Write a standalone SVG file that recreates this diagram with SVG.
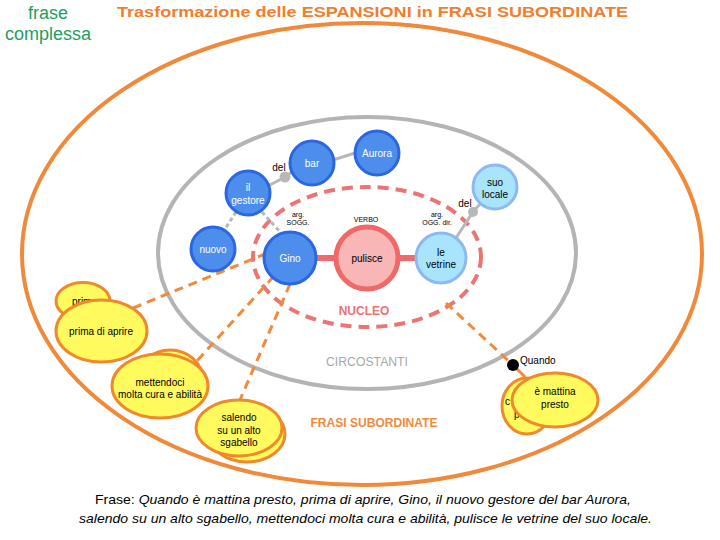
<svg xmlns="http://www.w3.org/2000/svg" width="720" height="540" viewBox="0 0 720 540">
<style>
text{font-family:"Liberation Sans",Arial,sans-serif}
.blue{fill:#4d8eec;stroke:#2b66e3;stroke-width:3}
.light{fill:#a8e5fc;stroke:#8db8f1;stroke-width:3}
.yel{fill:#fffa5e;stroke:#f0882c;stroke-width:3}
.wt{fill:#fff;font-size:10px;text-anchor:middle}
.bt{fill:#000;font-size:10px;text-anchor:middle}
.sm{fill:#000;font-size:7px;text-anchor:middle}
.gl{stroke:#b8b8b8;stroke-width:3;fill:none}
.gd{stroke:#b8b8b8;stroke-width:3;fill:none;stroke-dasharray:4 3}
.od{stroke:#f08a3c;stroke-width:3;fill:none;stroke-dasharray:9 6}
</style>
<rect width="720" height="540" fill="#fff"/>
<g id="titles">
<text x="48" y="19" font-size="18" fill="#1e9e5e" text-anchor="middle">frase</text>
<text x="48" y="40" font-size="18" fill="#1e9e5e" text-anchor="middle">complessa</text>
<text x="117" y="17" font-size="14.5" font-weight="bold" fill="#f07e2a" textLength="511" lengthAdjust="spacingAndGlyphs">Trasformazione delle ESPANSIONI in FRASI SUBORDINATE</text>
</g>
<g id="regions">
<ellipse cx="362" cy="254" rx="340" ry="231" fill="none" stroke="#f08a3a" stroke-width="4"/>
<ellipse cx="367" cy="253" rx="209" ry="136" fill="none" stroke="#b4b4b4" stroke-width="4"/>
<ellipse cx="367" cy="257" rx="114" ry="70" fill="none" stroke="#ec7474" stroke-width="4" stroke-dasharray="11 7"/>
<text x="364" y="315" font-size="12" font-weight="bold" fill="#e87474" text-anchor="middle">NUCLEO</text>
<text x="367" y="366" font-size="12" fill="#a8a8a8" text-anchor="middle" textLength="82" lengthAdjust="spacingAndGlyphs">CIRCOSTANTI</text>
<text x="374" y="427" font-size="12" font-weight="bold" fill="#f08a3c" text-anchor="middle" textLength="127" lengthAdjust="spacingAndGlyphs">FRASI SUBORDINATE</text>
</g>
<g id="connectors">
<polyline class="gl" points="268,186 285,177 292,172"/>
<line class="gl" x1="333" y1="160" x2="355" y2="153"/>
<polyline class="gl" points="456,238 473,212 480,204"/>
<line class="gd" x1="236" y1="212" x2="225" y2="229"/>
<line class="gd" x1="262" y1="212" x2="282" y2="234"/>
<line x1="290" y1="258" x2="441" y2="258" stroke="#f06a6a" stroke-width="6"/>
<line class="od" x1="133" y1="308" x2="265" y2="254"/>
<line class="od" x1="274" y1="276" x2="196" y2="362"/>
<line class="od" x1="290" y1="284" x2="240" y2="400"/>
<line class="od" x1="446" y1="303" x2="513" y2="365"/>
<line x1="513" y1="365" x2="525" y2="377" stroke="#f08a3c" stroke-width="3"/>
<circle cx="285" cy="177" r="5.5" fill="#b8b8b8"/>
<circle cx="473" cy="212" r="5" fill="#b8b8b8"/>
<text x="279" y="171" font-size="10" fill="#000" text-anchor="middle">del</text>
<text x="465" y="207" font-size="10" fill="#000" text-anchor="middle">del</text>
</g>
<g id="labels">
<text class="sm" x="298" y="217">arg.</text>
<text class="sm" x="298" y="225">SOGG.</text>
<text class="sm" x="366" y="222">VERBO</text>
<text class="sm" x="437" y="217">arg.</text>
<text class="sm" x="437" y="225">OGG. dir.</text>
</g>
<g id="node-aurora"><circle class="blue" cx="377" cy="153" r="22"/><text class="wt" x="377" y="157">Aurora</text></g>
<g id="node-bar"><circle class="blue" cx="312" cy="163" r="22"/><text class="wt" x="312" y="167">bar</text></g>
<g id="node-gestore"><circle class="blue" cx="248" cy="193" r="22"/><text class="wt" x="248" y="191">il</text><text class="wt" x="248" y="204">gestore</text></g>
<g id="node-nuovo"><circle class="blue" cx="213" cy="249" r="22"/><text class="wt" x="213" y="253">nuovo</text></g>
<g id="node-gino"><circle class="blue" cx="290" cy="258" r="26"/><text class="wt" x="290" y="262">Gino</text></g>
<g id="node-pulisce"><circle cx="367" cy="258" r="31" fill="#f9b6b6" stroke="#f06868" stroke-width="5"/><text class="bt" x="367" y="262">pulisce</text></g>
<g id="node-vetrine"><circle class="light" cx="441" cy="258" r="25"/><text class="bt" x="441" y="256">le</text><text class="bt" x="441" y="268">vetrine</text></g>
<g id="node-locale"><circle class="light" cx="495" cy="187" r="22"/><text class="bt" x="495" y="186">suo</text><text class="bt" x="495" y="198">locale</text></g>
<g id="node-prima">
<ellipse class="yel" cx="83" cy="301" rx="27" ry="18.5"/>
<text x="72" y="305" font-size="10" fill="#000">prima</text>
<ellipse class="yel" cx="101.5" cy="331" rx="45.5" ry="31"/>
<text class="bt" x="101" y="335">prima di aprire</text>
</g>
<g id="node-mettendoci">
<ellipse class="yel" cx="170" cy="378" rx="32" ry="28"/>
<ellipse class="yel" cx="160" cy="386" rx="48" ry="32"/>
<text class="bt" x="160" y="386">mettendoci</text>
<text class="bt" x="160" y="398">molta cura e abilità</text>
</g>
<g id="node-salendo">
<ellipse class="yel" cx="247" cy="434" rx="38" ry="28"/>
<ellipse class="yel" cx="239" cy="428" rx="43" ry="28"/>
<text class="bt" x="239" y="421">salendo</text>
<text class="bt" x="239" y="434">su un alto</text>
<text class="bt" x="239" y="446">sgabello</text>
</g>
<g id="node-quando">
<circle cx="513" cy="365" r="6" fill="#000"/>
<text x="520" y="364" font-size="10" fill="#000">Quando</text>
<ellipse class="yel" cx="527" cy="406" rx="25" ry="28"/>
<text x="505" y="405" font-size="10" fill="#000">c</text>
<text x="514" y="418" font-size="10" fill="#000">p</text>
<ellipse class="yel" cx="555" cy="400" rx="43" ry="27"/>
<text class="bt" x="555" y="395">è mattina</text>
<text class="bt" x="555" y="408">presto</text>
</g>
<g id="sentence">
<text x="95" y="504" font-size="13" fill="#000" textLength="536" lengthAdjust="spacingAndGlyphs">Frase: <tspan font-style="italic">Quando è mattina presto, prima di aprire, Gino, il nuovo gestore del bar Aurora,</tspan></text>
<text x="79" y="523" font-size="13" fill="#000" font-style="italic" textLength="573" lengthAdjust="spacingAndGlyphs">salendo su un alto sgabello, mettendoci molta cura e abilità, pulisce le vetrine del suo locale.</text>
</g>
</svg>
